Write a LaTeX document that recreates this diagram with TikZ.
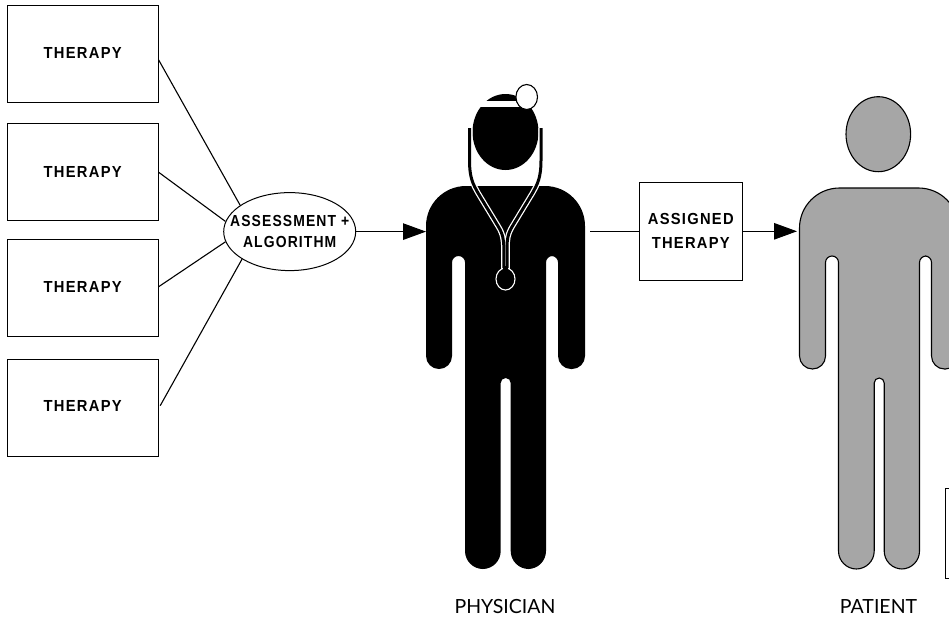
\documentclass[tikz,border=0pt]{standalone}
\usepackage{fontspec}
\setmainfont{Liberation Sans}
\newfontfamily\lblfont[LetterSpace=8,FakeStretch=0.92]{Liberation Sans}
\newfontfamily\algfont[LetterSpace=7,FakeStretch=0.87]{Liberation Sans}
\newfontfamily\capfont{Lato}
\usetikzlibrary{shapes.geometric,arrows.meta}
\definecolor{patientgray}{HTML}{A6A6A6}
\newcommand{\bodypath}[1]{
  [rounded corners=40pt] (505.5,#1) -- (426,#1)
  [rounded corners=13pt] -- (426,369) -- (452,369)
  [rounded corners=6.5pt] -- (452,256) -- (465,256)
  [rounded corners=18pt] -- (465,569) -- (500.7,569)
  [rounded corners=5pt] -- (500.7,378) -- (510.7,378)
  [rounded corners=18pt] -- (510.7,569) -- (546,569)
  [rounded corners=6.5pt] -- (546,256) -- (558,256)
  [rounded corners=13pt] -- (558,369) -- (585,369)
  [rounded corners=40pt] -- (585,#1) -- cycle}
\newcommand{\leftbranch}{(469.5,128) -- (469.5,160) .. controls (469.5,178) and (473,184) .. (478,193) -- (498,226) .. controls (503,234) and (503.8,240) .. (503.8,248) -- (503.8,270)}
\newcommand{\rightbranch}{(541,128) -- (541,160) .. controls (541,178) and (537.5,184) .. (532.5,193) -- (512.5,226) .. controls (507.5,234) and (507,240) .. (507,248) -- (507,270)}
\tikzset{
  therapybox/.style={draw=black,line width=1pt,fill=white,minimum width=151pt,minimum height=96.7pt,inner sep=0pt,font=\lblfont\bfseries\fontsize{16}{18}\selectfont,align=center},
  algo/.style={draw=black,line width=1pt,fill=white,ellipse,minimum width=132pt,minimum height=78pt,inner xsep=-17pt,inner ysep=0pt,text depth=0pt,font=\algfont\bfseries\fontsize{16}{21}\selectfont,align=center},
  assigned/.style={draw=black,line width=0.8pt,fill=white,minimum width=103pt,minimum height=97.3pt,inner sep=0pt,text depth=1.4pt,font=\lblfont\bfseries\fontsize{16}{23.7}\selectfont,align=center},
  wire/.style={draw=black,line width=1.1pt},
  flow/.style={wire,-{Triangle[length=23pt,width=16.5pt]}},
  caption/.style={font=\capfont\fontsize{19.5}{22}\selectfont,inner sep=0pt}
}
\begin{document}
\begin{tikzpicture}[x=1pt,y=-1pt]
\clip (0,0) rectangle (949,619);
\fill[white] (0,0) rectangle (949,619);
% therapies
\node[therapybox,text depth=2.6pt] (t1) at (82.7,54.3) {THERAPY};
\node[therapybox,text depth=0pt] (t2) at (82.7,172.3) {THERAPY};
\node[therapybox,text depth=0.6pt] (t3) at (82.7,287.7) {THERAPY};
\node[therapybox,text depth=3.2pt] (t4) at (82.7,408) {THERAPY};
\node[algo] (alg) at (289.7,231.6) {ASSESSMENT +\\ALGORITHM};
\draw[wire] ([yshift=-5.7pt]t1.east) -- (alg.152);
\draw[wire] (t2.east) -- (alg.171);
\draw[wire] ([yshift=1pt]t3.east) -- (alg.189);
\draw[wire] ([xshift=1.5pt,yshift=2.3pt]t4.east) -- (alg.210);
% physician
\fill[black] \bodypath{186};
\fill[black] (505.5,132) ellipse [x radius=33,y radius=38];
\fill[white] (440,100.7) rectangle (530,107);
\draw[black,fill=white,line width=1.1pt] (526.7,97) ellipse [x radius=10.8,y radius=12.5];
% stethoscope
\draw[white,line width=5.5pt] \leftbranch;
\draw[white,line width=5.5pt] \rightbranch;
\draw[black,line width=3pt] \leftbranch;
\draw[black,line width=3pt] \rightbranch;
\draw[white,fill=black,line width=1.1pt] (505.5,279) ellipse [x radius=9.5,y radius=11];
\fill[black] (502.9,266) rectangle (508,272);
% patient
\draw[black,fill=patientgray,line width=1.1pt] [xshift=373.5pt] \bodypath{188};
\draw[black,fill=patientgray,line width=1.1pt] (878.3,134.2) ellipse [x radius=32.3,y radius=37.5];
% connectors
\coordinate (physL) at (426,231.6);
\coordinate (physR) at (590,231.3);
\coordinate (patL) at (797,231.3);
\node[assigned] (as) at (690.8,231.3) {ASSIGNED\\THERAPY};
\draw[flow] (alg.east) -- (physL);
\draw[wire] (physR) -- (as.west);
\draw[flow] (as.east) -- (patL);
% partial box at edge
\node[draw=black,line width=1pt,fill=white,minimum width=40pt,minimum height=90pt,inner sep=0pt] (edge) at (965,533) {};
% captions
\node[caption] (physcap) at (505,606) {PHYSICIAN};
\node[caption] (patcap) at (878.5,606) {PATIENT};
\end{tikzpicture}
\end{document}
